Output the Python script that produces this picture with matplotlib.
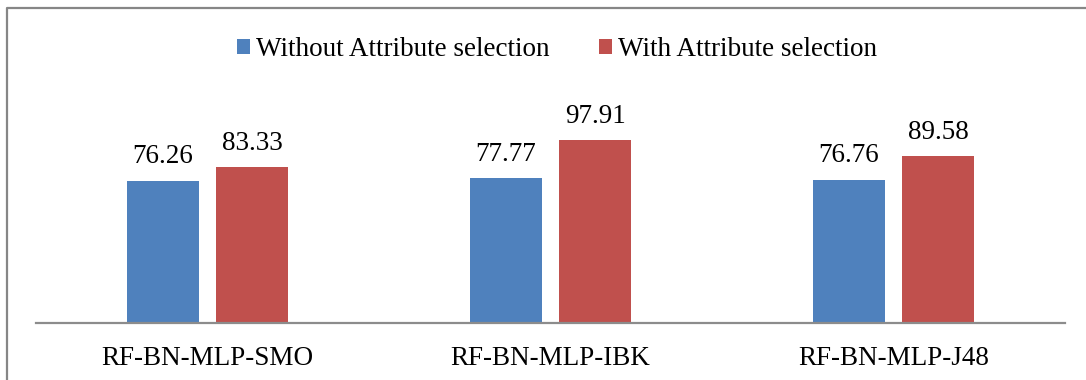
import numpy as np
import matplotlib.pyplot as plt
from matplotlib.lines import Line2D

plt.rcParams['font.family'] = ['Liberation Serif', 'DejaVu Serif']

# accuracy per classifier combination
kategorie = ['RF-BN-MLP-SMO', 'RF-BN-MLP-IBK', 'RF-BN-MLP-J48']
bez_selekcji = [76.26, 77.77, 76.76]
z_selekcja = [83.33, 97.91, 89.58]
serie = ['Without Attribute selection', 'With Attribute selection']

W, H = 1086, 380
fig = plt.figure(figsize=(W / 100, H / 100), dpi=100)
ax = fig.add_axes([36 / W, 1 - 322.7 / H, (1065 - 36) / W, (322.7 - 99) / H])

x = np.arange(len(kategorie))
szer = 0.21
odst = 0.13
b1 = ax.bar(x - odst, bez_selekcji, szer, color='#4F81BD', label=serie[0])
b2 = ax.bar(x + odst, z_selekcja, szer, color='#C0504D', label=serie[1])

# wartosci nad slupkami
for bars, vals in [(b1, bez_selekcji), (b2, z_selekcja)]:
    for b, v in zip(bars, vals):
        ax.annotate(f'{v:.2f}', (b.get_x() + b.get_width() / 2, v),
                    xytext=(0, 8), textcoords='offset points',
                    ha='center', va='bottom', fontsize=19.5)

ax.set_xlim(-0.5, 2.5)
ax.set_ylim(0, 120)
ax.set_xticks(x)
ax.set_xticklabels(kategorie, fontsize=19.5)
ax.tick_params(axis='x', length=0, pad=16.5)
ax.set_yticks([])
for s in ['top', 'right', 'left']:
    ax.spines[s].set_visible(False)
ax.spines['bottom'].set_color('#8c8c8c')
ax.spines['bottom'].set_linewidth(1.6)

fig.legend(loc='center', bbox_to_anchor=(557 / W, 1 - 49.5 / H), ncol=2,
           frameon=False, fontsize=19.5, handlelength=0.49, handleheight=0.49,
           handletextpad=0.23, columnspacing=1.8, borderpad=0)

# ramka: tylko lewa i gorna krawedz miesci sie w obrazie
x0, y0 = 6.5 / W, 1 - 8 / H
fig.add_artist(Line2D([x0, x0, 1.0], [0.0, y0, y0], transform=fig.transFigure,
                      color='#868686', linewidth=1.6))

plt.savefig('out.png', dpi=100)
